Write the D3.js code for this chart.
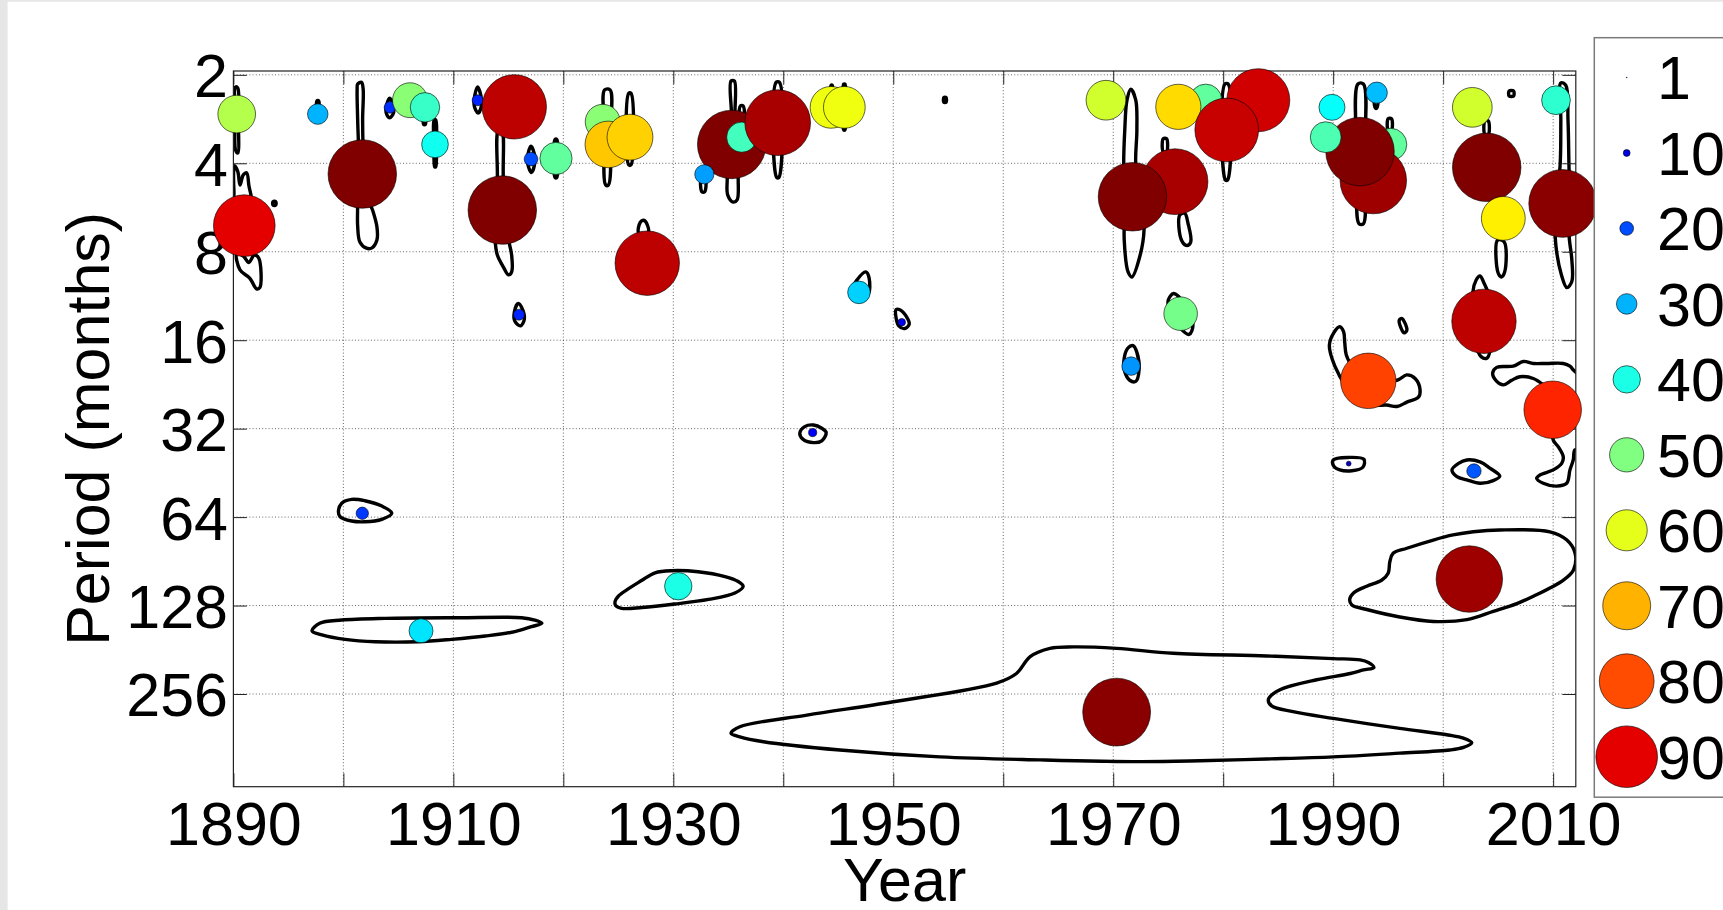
<!DOCTYPE html>
<html><head><meta charset="utf-8">
<script src="https://cdn.jsdelivr.net/npm/d3@7"></script>
<style>html,body{margin:0;padding:0;background:#fff;overflow:hidden}</style>
</head><body>
<svg id="chart" width="1723" height="910"></svg>
<script>
// ---------------- DATA ----------------
const circleYears   = [1890.3,1897.67,1890.99,1901.72,1901.72,1904.24,1906.06,1907.42,1908.33,1912.21,1915.97,1914.45,1915.54,1917.06,1919.33,1923.58,1924.09,1926.06,1927.63,1935.31,1936.22,1939.49,1932.82,1944.34,1945.55,1946.88,1950.77,1942.67,1907.06,1930.45,1969.34,1970.31,1975.62,1971.75,1971.62,1978.41,1975.92,1983.19,1980.32,1976.13,1989.89,1995.23,1993.65,1992.44,1989.32,1993.96,1993.19,1991.41,2002.38,2002.65,2003.96,2005.47,2003.71,2002.80,2010.26,2010.87,2009.96];
const circlePeriods = [2.72,2.72,6.52,4.35,62.1,2.58,2.44,2.58,3.45,2.44,13.1,5.77,2.57,3.87,3.85,2.89,3.45,3.26,8.75,3.45,3.26,2.91,4.36,2.58,2.58,11.0,13.9,33.0,156,110,2.44,295,4.62,5.2,19.6,2.44,2.57,2.44,3.08,13.0,2.58,3.45,4.58,3.65,3.26,2.30,22.0,42.1,104,2.58,4.13,6.16,13.8,44.6,2.44,5.48,27.6];
const circleValues  = [55,30,90,100,18,17,51,43,39,16,16,100,94,20,47,51,68,67,94,100,44,96,28,61,61,33,11,12,35,40,58,99,96,100,27,47,66,92,93,49,38,47,97,100,45,31,81,7,97,58,100,64,94,21,42,99,84];

const legendValues = [1,10,20,30,40,50,60,70,80,90];
const legendLabels = ["1","10","20","30","40","50","60","70","80","90"];
const xTickYears  = [1890,1900,1910,1920,1930,1940,1950,1960,1970,1980,1990,2000,2010];
const xTickLabels = ["1890","","1910","","1930","","1950","","1970","","1990","","2010"];
const yTickPeriods = [2,4,8,16,32,64,128,256];
const yTickLabels  = ["2","4","8","16","32","64","128","256"];
const xLabel = "Year";
const yLabel = "Period (months)";

// significance contours: [year, period]
const contour01 = [[1890.2,2.20],[1890.4,2.22],[1890.45,2.85],[1890.4,3.69],[1890.2,3.61],[1890.15,2.85]];
const contour02 = [[1890.1,4.08],[1890.4,4.27],[1890.6,4.74],[1890.9,4.38],[1891.2,4.31],[1891.4,4.74],[1891.6,5.56],[1890.2,5.56],[1890.05,4.98]];
const contour03 = [[1890.3,8.14],[1890.6,9.23],[1891.5,9.85],[1892.1,10.7],[1892.4,10.6],[1892.3,8.4],[1891.9,8.21],[1891.4,8.7],[1890.9,8.27]];
const contour04 = [[1893.6,5.4],[1893.85,5.4],[1893.85,5.55],[1893.6,5.55]];
const contour05 = [[1901.3,2.15],[1901.65,2.12],[1901.8,2.24],[1901.75,2.85],[1901.85,3.90],[1902.3,5.33],[1902.7,5.84],[1903.05,6.58],[1903.05,7.30],[1902.6,7.76],[1902.1,7.78],[1901.5,7.41],[1901.3,6.55],[1901.3,5.55],[1901.4,3.90],[1901.3,2.85],[1901.25,2.25]];
const contour06 = [[1904.2,2.40],[1904.5,2.52],[1904.55,2.7],[1904.2,2.80],[1903.9,2.7],[1903.95,2.52]];
const contour07 = [[1907.3,2.8],[1907.45,2.8],[1907.45,2.95],[1907.3,2.95]];
const contour08 = [[1908.25,2.85],[1908.4,2.85],[1908.45,3.5],[1908.4,4.11],[1908.3,4.11],[1908.25,3.5]];
const contour09 = [[1912.2,2.20],[1912.5,2.35],[1912.55,2.55],[1912.25,2.7],[1911.9,2.55],[1911.95,2.35]];
const contour10 = [[1914.1,3.08],[1914.4,3.08],[1914.55,4.56],[1915.0,7.19],[1915.3,8.21],[1915.3,9.37],[1915.0,9.58],[1914.6,9.09],[1914.0,8.21],[1913.8,7.30],[1914.0,4.56]];
const contour11 = [[1917.05,3.50],[1917.35,3.7],[1917.4,4.0],[1917.1,4.3],[1916.75,4.0],[1916.8,3.7]];
const contour12 = [[1919.25,3.32],[1919.4,3.32],[1919.4,4.47],[1919.25,4.47]];
const contour13 = [[1923.75,2.25],[1924.25,2.25],[1924.3,3.08],[1924.1,4.74],[1923.85,4.74],[1923.75,3.08]];
const contour14 = [[1925.95,2.31],[1926.15,2.31],[1926.15,4.05],[1925.95,4.05]];
const contour15 = [[1926.85,6.9],[1927.0,6.35],[1927.3,6.25],[1927.65,6.5],[1927.7,6.9]];
const contour16 = [[1915.9,12.0],[1916.3,12.6],[1916.45,13.6],[1916.1,14.3],[1915.6,13.8],[1915.55,12.8]];
const contour17 = [[1935.25,2.10],[1935.55,2.10],[1935.6,2.85],[1935.9,4.56],[1935.8,5.33],[1935.45,5.42],[1934.95,5.13],[1934.9,4.56],[1935.3,2.85]];
const contour18 = [[1936.1,2.55],[1936.35,2.55],[1936.35,3.0],[1936.1,3.0]];
const contour19 = [[1939.35,2.12],[1939.65,2.12],[1939.6,4.47],[1939.4,4.47]];
const contour20 = [[1932.55,4.5],[1932.9,4.5],[1932.85,5.0],[1932.6,5.0]];
const contour21 = [[1945.5,2.15],[1945.6,2.15],[1945.6,3.08],[1945.5,3.08]];
const contour22 = [[1944.35,2.17],[1944.45,2.17],[1944.45,2.5],[1944.35,2.5]];
const contour23 = [[1954.6,2.39],[1954.8,2.39],[1954.8,2.48],[1954.6,2.48]];
const contour24 = [[1946.25,10.8],[1946.7,9.98],[1947.5,9.37],[1947.8,9.82],[1947.7,11.2],[1946.9,11.3]];
const contour25 = [[1950.25,12.6],[1950.6,12.6],[1951.25,13.4],[1951.45,14.1],[1951.05,14.6],[1950.5,14.3],[1950.25,13.4]];
const contour26 = [[1971.6,2.24],[1972.05,2.44],[1972.15,3.08],[1972.05,4.05],[1972.6,5.55],[1972.8,6.75],[1972.45,8.21],[1971.7,9.75],[1971.35,9.37],[1971.0,7.30],[1971.05,5.55],[1970.95,4.05],[1971.05,3.08],[1971.25,2.44]];
const contour27 = [[1974.55,3.3],[1974.85,3.3],[1974.85,3.65],[1974.55,3.65]];
const contour28 = [[1976.05,6.0],[1976.2,7.30],[1976.7,7.62],[1977.05,7.41],[1976.8,6.40],[1976.5,5.92]];
const contour29 = [[1980.15,2.15],[1980.45,2.15],[1980.4,4.56],[1980.2,4.56]];
const contour30 = [[1992.25,2.15],[1992.75,2.15],[1992.8,4.0],[1992.75,6.42],[1992.35,6.42],[1992.2,4.0]];
const contour31 = [[1995.0,2.82],[1995.3,2.82],[1995.3,3.08],[1995.0,3.08]];
const contour32 = [[1993.75,2.46],[1994.05,2.46],[1993.95,2.6],[1993.85,2.6]];
const contour33 = [[2003.8,2.87],[2004.1,2.87],[2004.1,3.2],[2003.8,3.2]];
const contour34 = [[2004.95,7.30],[2005.0,9.45],[2005.3,9.75],[2005.6,9.35],[2005.55,7.41]];
const contour35 = [[2010.7,2.13],[2011.15,2.17],[2011.35,2.85],[2011.45,4.22],[2011.55,5.33],[2011.45,7.02],[2011.7,8.53],[2011.7,10.1],[2011.25,10.6],[2010.75,9.58],[2010.25,7.62],[2010.15,5.33],[2010.6,4.22],[2010.7,2.85]];
const contour36 = [[1975.0,11.7],[1975.5,11.1],[1976.5,12.1],[1977.25,14.2],[1976.9,15.3],[1976.05,14.5],[1975.15,12.8]];
const contour37 = [[1996.0,13.7],[1996.25,13.5],[1996.7,14.8],[1996.45,15.1]];
const contour38 = [[2002.7,11.0],[2003.0,9.98],[2003.35,9.67],[2003.7,10.2],[2004.3,11.7],[2004.4,16.0],[2004.0,18.4],[2003.45,18.2],[2002.9,16.0],[2002.8,11.7]];
const contour39 = [[1971.35,17.0],[1971.8,16.7],[1972.15,17.6],[1972.35,20.2],[1972.05,22.1],[1971.5,21.9],[1971.05,20.5],[1971.0,18.4]];
const contour40 = [[1990.05,15.1],[1990.6,14.4],[1990.95,15.0],[1991.05,16.3],[1991.2,18.0],[1991.8,19.7],[1993.6,21.5],[1995.8,21.9],[1996.7,21.0],[1997.45,21.6],[1997.9,23.6],[1997.75,25.0],[1996.7,26.0],[1995.8,26.9],[1994.85,26.6],[1993.6,26.6],[1992.45,25.6],[1991.2,23.0],[1990.15,19.6],[1989.65,16.7]];
const contour41 = [[2004.5,20.7],[2004.87,19.8],[2006.38,19.6],[2007.29,18.9],[2008.19,19.2],[2009.41,19.2],[2010.92,19.2],[2011.53,19.6],[2011.83,20.2],[2012.62,21.9],[2012.62,37.8],[2011.98,37.8],[2011.83,40.9],[2011.53,44.2],[2011.23,49.1],[2010.32,50.2],[2009.1,49.1],[2008.5,47.2],[2008.8,46.0],[2010.01,44.2],[2010.78,42.0],[2010.92,39.9],[2010.47,36.9],[2010.01,35.0],[2009.56,23.6],[2009.1,22.7],[2008.19,21.6],[2006.98,21.3],[2006.23,21.9],[2005.47,22.7],[2004.87,22.1]];
const contour42 = [[2006.0,2.27],[2006.4,2.27],[2006.4,2.36],[2006.0,2.36]];
const contour43 = [[1990.0,40.9],[1991.35,40.1],[1992.8,40.7],[1992.7,43.3],[1991.7,44.5],[1990.6,44.2],[1990.05,42.9]];
const contour44 = [[2000.8,44.2],[2001.4,42.0],[2002.15,40.9],[2003.35,41.5],[2004.25,43.6],[2005.15,46.4],[2004.55,48.1],[2003.35,49.1],[2002.15,47.8],[2001.25,46.6]];
const contour45 = [[1991.5,122],[1991.85,116],[1993.05,110],[1994.4,105],[1995.0,99.4],[1995.15,90.8],[1995.45,85.0],[1996.7,81.7],[1999.1,76.6],[2000.9,73.6],[2002.75,71.8],[2005.15,70.8],[2009.7,71.8],[2011.25,76.6],[2012.0,85.0],[2011.85,96.8],[2010.9,105],[2008.2,119],[2006.7,126],[2004.55,134],[2002.15,143],[1999.1,145],[1996.05,140],[1993.05,132],[1991.7,127.5]];
const contour46 = [[1941.5,33.2],[1941.95,31.5],[1942.75,31.1],[1943.5,31.9],[1943.9,33.0],[1943.5,35.2],[1942.75,35.7],[1941.8,34.8]];
const contour47 = [[1899.55,61.3],[1899.85,57.4],[1900.75,55.7],[1901.95,56.3],[1903.5,58.7],[1904.4,62.1],[1903.5,65.1],[1901.95,66.4],[1900.75,66.0],[1899.7,63.8]];
const contour48 = [[1897.15,156],[1897.85,147],[1899.85,143.4],[1903.8,141.5],[1910.45,140.8],[1916.2,140.8],[1917.4,143.4],[1918.05,147],[1917.1,151],[1915.6,157],[1912.9,162.5],[1909.85,166.8],[1906.8,170],[1902.9,170],[1900.15,166.8],[1898.05,161]];
const contour49 = [[1924.7,124],[1925.0,119],[1927.15,105],[1928.35,99],[1929.85,97.4],[1932.25,98.2],[1934.7,102],[1935.9,106],[1936.35,110],[1935.6,116],[1933.2,122],[1930.15,126.5],[1927.15,130],[1925.3,130.8],[1924.75,128]];
const contour50 = [[1935.25,348],[1936.05,331],[1942.15,302],[1950.0,272],[1959.4,235],[1961.2,218],[1962.45,191],[1964.25,179],[1966.35,177],[1970.3,179],[1975.45,186],[1983.95,190],[1990.0,194],[1992.45,196],[1993.2,200],[1993.7,208],[1992.75,212],[1991.55,218],[1988.5,229],[1985.45,245],[1984.4,258],[1984.1,268],[1984.4,281],[1986.35,294],[1990.0,310],[1996.05,335],[2000.45,353],[2001.85,362],[2002.6,375],[2001.85,389],[2000.6,397],[1996.05,407],[1990.0,419],[1983.95,426],[1977.9,432],[1972.45,435],[1963.35,429],[1954.25,419],[1945.15,397],[1938.2,372],[1936.05,358]];
const contour51 = [[1897.6,2.45],[1897.75,2.45],[1897.75,2.6],[1897.6,2.6]];

const contourList = [contour01,contour02,contour03,contour04,contour05,contour06,contour07,contour08,contour09,contour10,
  contour11,contour12,contour13,contour14,contour15,contour16,contour17,contour18,contour19,contour20,
  contour21,contour22,contour23,contour24,contour25,contour26,contour27,contour28,contour29,contour30,
  contour31,contour32,contour33,contour34,contour35,contour36,contour37,contour38,contour39,contour40,
  contour41,contour42,contour43,contour44,contour45,contour46,contour47,contour48,contour49,contour50,contour51];

// ---------------- LAYOUT ----------------
const W = 1723, H = 910;
const plot = {left: 233.4, right: 1575.8, top: 71, bottom: 786.7};
const FONT = "'Liberation Sans', Arial, Helvetica, sans-serif";
const FS = 61;
const tickLen = 13.4;

const svg = d3.select("#chart");
svg.append("rect").attr("x",0).attr("y",0).attr("width",W).attr("height",H).attr("fill","#e6e6e6");
svg.append("rect").attr("x",7.6).attr("y",1.7).attr("width",W).attr("height",H).attr("fill","#fff");

const x = d3.scaleLinear().domain([1890, 2012.06]).range([plot.left, plot.right]);
const y = d3.scaleLog().base(2).domain([1.9407, 529.3]).range([plot.top, plot.bottom]);
const r = d3.scaleLinear().domain([0, 100]).range([0, 34.25]);

function jet(t){
  const c = v => Math.max(0, Math.min(1, v));
  return d3.rgb(c(1.5-Math.abs(4*t-3))*255, c(1.5-Math.abs(4*t-2))*255, c(1.5-Math.abs(4*t-1))*255).toString();
}

// grid
const grid = svg.append("g").attr("stroke","#000").attr("stroke-opacity",0.6).attr("stroke-width",1).attr("stroke-dasharray","1,2.2");
grid.selectAll("line.gx").data(xTickYears.slice(1)).enter().append("line")
  .attr("x1",d=>x(d)).attr("x2",d=>x(d)).attr("y1",plot.top).attr("y2",plot.bottom);
grid.selectAll("line.gy").data(yTickPeriods).enter().append("line")
  .attr("x1",plot.left).attr("x2",plot.right).attr("y1",d=>y(d)).attr("y2",d=>y(d));

// clip for contours
svg.append("clipPath").attr("id","plotClip").append("rect")
  .attr("x",plot.left).attr("y",plot.top).attr("width",plot.right-plot.left).attr("height",plot.bottom-plot.top);

const line = d3.line().x(d=>x(d[0])).y(d=>y(d[1])).curve(d3.curveCatmullRomClosed.alpha(0.5));
svg.append("g").attr("clip-path","url(#plotClip)")
  .selectAll("path").data(contourList).enter().append("path")
  .attr("d", line).attr("fill","none").attr("stroke","#000").attr("stroke-width",3.4).attr("stroke-linejoin","round");

// axes
const axisStyle = g => {
  g.select(".domain").remove();
  g.selectAll(".tick line").attr("stroke","#222").attr("stroke-width",1);
  g.selectAll("text").attr("font-family",FONT).attr("font-size",FS).attr("fill","#000");
};
svg.append("g").attr("transform",`translate(0,${plot.bottom})`)
  .call(d3.axisBottom(x).tickValues(xTickYears).tickSizeInner(-tickLen).tickSizeOuter(0).tickPadding(15)
    .tickFormat((d,i)=>xTickLabels[i]))
  .call(axisStyle);
svg.append("g").attr("transform",`translate(0,${plot.top})`)
  .call(d3.axisTop(x).tickValues(xTickYears).tickSizeInner(-tickLen).tickSizeOuter(0).tickFormat(""))
  .call(axisStyle);
svg.append("g").attr("transform",`translate(${plot.left},0)`)
  .call(d3.axisLeft(y).tickValues(yTickPeriods).tickSizeInner(-tickLen).tickSizeOuter(0).tickPadding(5.4)
    .tickFormat((d,i)=>yTickLabels[i]))
  .call(axisStyle)
  .selectAll("text").attr("dy","0.36em");
svg.append("g").attr("transform",`translate(${plot.right},0)`)
  .call(d3.axisRight(y).tickValues(yTickPeriods).tickSizeInner(-tickLen).tickSizeOuter(0).tickFormat(""))
  .call(axisStyle);

// frame
svg.append("rect").attr("x",plot.left).attr("y",plot.top).attr("width",plot.right-plot.left).attr("height",plot.bottom-plot.top)
  .attr("fill","none").attr("stroke","#222").attr("stroke-width",1.2);

// circles
const pts = circleYears.map((yr,i)=>({yr, p: circlePeriods[i], v: circleValues[i]}));
svg.append("g").selectAll("circle").data(pts).enter().append("circle")
  .attr("cx",d=>x(d.yr)).attr("cy",d=>y(d.p)).attr("r",d=>r(d.v))
  .attr("fill",d=>jet(d.v/100)).attr("stroke","#000").attr("stroke-opacity",0.6).attr("stroke-width",1);

// axis labels
svg.append("text").attr("x",(plot.left+plot.right)/2).attr("y",901).attr("text-anchor","middle")
  .attr("font-family",FONT).attr("font-size",FS).text(xLabel);
svg.append("text").attr("transform",`translate(109,${(plot.top+plot.bottom)/2}) rotate(-90)`).attr("text-anchor","middle")
  .attr("font-family",FONT).attr("font-size",FS).text(yLabel);

// legend
const leg = svg.append("g");
leg.append("rect").attr("x",1594.3).attr("y",37.7).attr("width",200).attr("height",759.5)
  .attr("fill","#fff").attr("stroke","#7a7a7a").attr("stroke-width",1.5);
const legY = d3.scaleLinear().domain([0, legendValues.length-1]).range([77.5, 756.7]);
legendValues.forEach((v,i)=>{
  leg.append("circle").attr("cx",1626.7).attr("cy",legY(i)).attr("r",Math.max(r(v),0.6))
    .attr("fill",jet(v/100)).attr("stroke","#000").attr("stroke-opacity",v<5?0.2:0.6).attr("stroke-width",1);
  leg.append("text").attr("x",1657).attr("y",legY(i)+21.8).attr("font-family",FONT).attr("font-size",FS)
    .attr("fill","#000").text(legendLabels[i]);
});
</script>
</body></html>
